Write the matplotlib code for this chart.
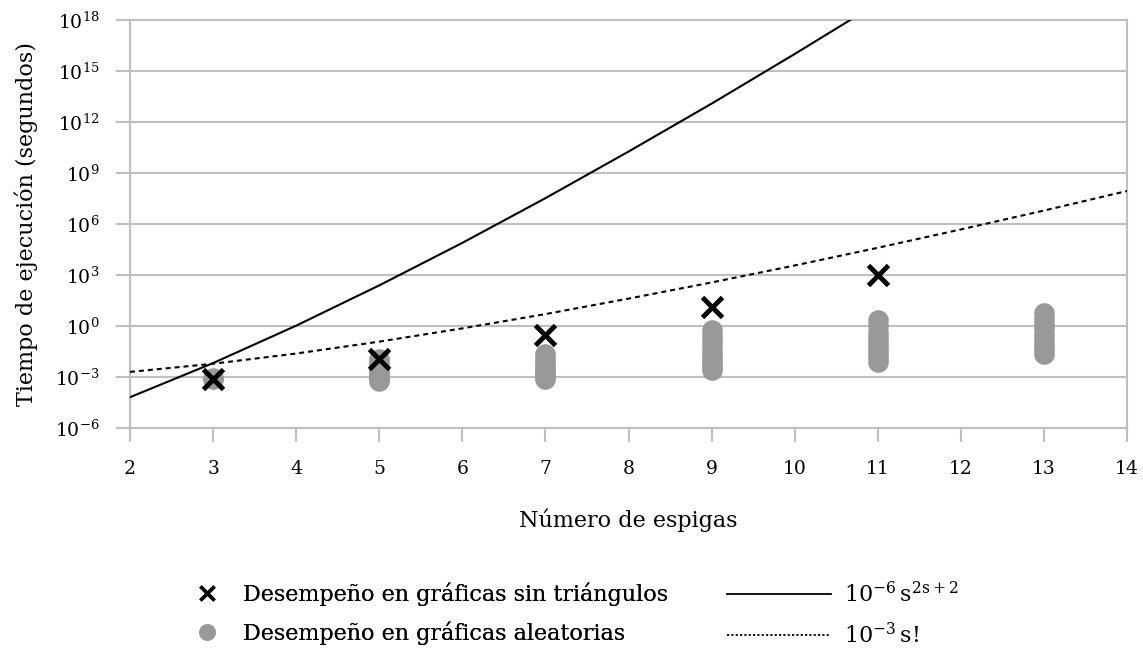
import numpy as np
import matplotlib
matplotlib.use('Agg')
import matplotlib.pyplot as plt
from matplotlib.lines import Line2D

plt.rcParams['font.family'] = ['DejaVu Serif']
plt.rcParams['mathtext.fontset'] = 'dejavuserif'

# valores (log10 de segundos)
s_curve = [2, 3, 4, 5, 6, 7, 8, 9, 10, 11]
log_pow = [-4.19, -2.18, 0.02, 2.39, 4.89, 7.52, 10.26, 13.08, 16.0, 18.99]
s_fact = [2, 3, 4, 5, 6, 7, 8, 9, 10, 11, 12, 13, 14]
log_fact = [-2.70, -2.22, -1.62, -0.92, -0.14, 0.70, 1.61, 2.56, 3.56, 4.60, 5.68, 6.79, 7.94]

s_tri = [3, 5, 7, 9, 11]
log_tri = [-3.1, -1.96, -0.53, 1.1, 3.0]

rand_pts = {
    3: [-3.1, -3.05],
    5: [-1.95, -2.2, -2.4, -2.6, -2.75, -2.9, -3.0, -3.1, -3.24],
    7: [-1.65, -1.9, -2.1, -2.3, -2.5, -2.7, -2.85, -3.0, -3.14],
    9: [-0.24, -0.6, -0.9, -1.2, -1.5, -1.75, -2.0, -2.2, -2.4, -2.59],
    11: [0.37, 0.0, -0.4, -0.7, -1.0, -1.3, -1.6, -1.85, -2.12],
    13: [0.76, 0.4, 0.1, -0.2, -0.5, -0.8, -1.1, -1.4, -1.65],
}

yticks = [-6, -3, 0, 3, 6, 9, 12, 15, 18]
xticks = list(range(2, 15))

fig = plt.figure(figsize=(11.43, 6.5), dpi=100)
ax = fig.add_axes([130/1143, 1-428/650, 997/1143, 408/650])

grey = '#bfbfbf'
fs = 16
fst = 13.5

rx = []
ry = []
for k in rand_pts:
    for v in rand_pts[k]:
        rx.append(k)
        ry.append(10**v)
ax.scatter(rx, ry, s=220, color='#999999', zorder=3, linewidths=0)
ax.plot(s_tri, [10**v for v in log_tri], linestyle='none', marker='x',
        color='black', markersize=14, mew=3.5, zorder=4)
ax.plot(s_curve, [10**v for v in log_pow], color='black', lw=1.5, zorder=5)
ax.plot(s_fact, [10**v for v in log_fact], color='black', lw=1.5,
        linestyle=(0, (2.4, 1.9)), zorder=5)

ax.set_yscale('log')
ax.set_xlim(2, 14)
ax.set_ylim(1e-6, 1e18)
ax.set_yticks([10.0**k for k in yticks])
ax.set_yticklabels(['$10^{%d}$' % k for k in yticks], fontsize=fst)
ax.minorticks_off()
ax.set_xticks(xticks)
ax.set_xticklabels([str(k) for k in xticks], fontsize=fst)
ax.grid(axis='y', color=grey, lw=1.5)
ax.set_axisbelow(True)
for sp in ax.spines.values():
    sp.set_color(grey)
    sp.set_linewidth(1.5)
ax.tick_params(axis='both', color=grey, width=1.5, length=10)
ax.tick_params(axis='x', pad=13)
ax.tick_params(axis='y', pad=12)

ax.set_xlabel('Número de espigas', fontsize=fs, labelpad=22)
ax.set_ylabel('Tiempo de ejecución (segundos)', fontsize=fs, labelpad=12)

h1 = [Line2D([], [], linestyle='none', marker='x', color='black', markersize=10, mew=2.5),
      Line2D([], [], linestyle='none', marker='o', color='#999999', markersize=12, mec='none')]
l1 = ['Desempeño en gráficas sin triángulos', 'Desempeño en gráficas aleatorias']
h2 = [Line2D([], [], color='black', lw=1.3),
      Line2D([], [], color='black', lw=1.3, linestyle=(0, (1.2, 1.2)))]
l2 = [r'$10^{-6}\,\mathrm{s}^{2\mathrm{s}+2}$', r'$10^{-3}\,\mathrm{s!}$']

leg1 = fig.legend(h1, l1, loc='upper left', bbox_to_anchor=(196/1143, 1-582/650),
                  frameon=False, fontsize=fs, handlelength=1.0, handletextpad=1.1,
                  labelspacing=0.7, borderpad=0, borderaxespad=0)
leg2 = fig.legend(h2, l2, loc='upper left', bbox_to_anchor=(727/1143, 1-582/650),
                  frameon=False, fontsize=fs, handlelength=4.7, handletextpad=0.55,
                  labelspacing=0.7, borderpad=0, borderaxespad=0)
fig.add_artist(leg1)

fig.savefig('out.png', dpi=100)
